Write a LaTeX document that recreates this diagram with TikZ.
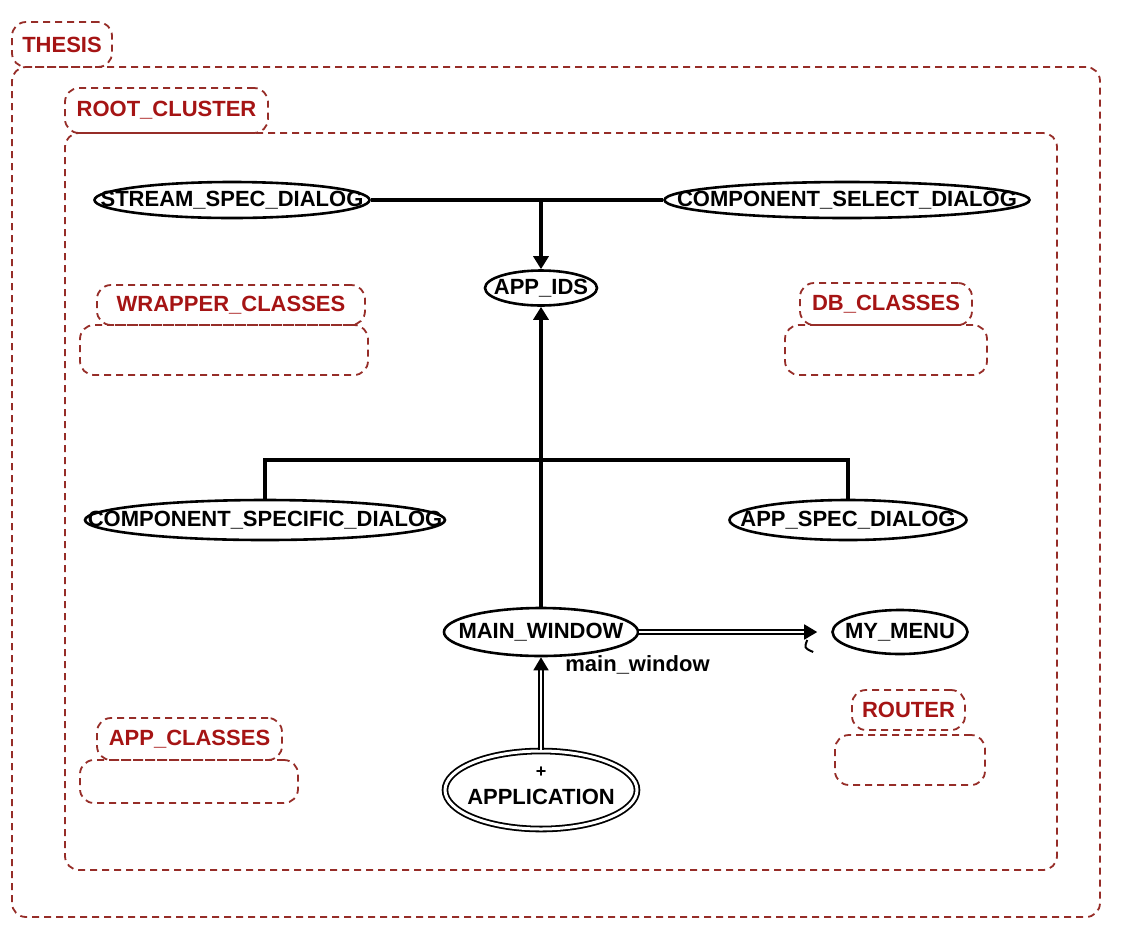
\documentclass[tikz,border=0pt]{standalone}
\usepackage{fontspec}
\setmainfont{Liberation Sans}
\usetikzlibrary{arrows.meta,shapes.geometric,calc}
\definecolor{clred}{RGB}{150,45,40}
\definecolor{lblred}{RGB}{165,20,20}
\begin{document}
\begin{tikzpicture}[x=0.5pt,y=-0.5pt,
  cluster/.style={draw=clred, dash pattern=on 3.5pt off 2.5pt, line width=0.9pt, rounded corners=7pt, inner sep=0pt},
  clabel/.style={cluster, text=lblred, font=\bfseries\fontsize{11}{11}\selectfont},
  ell/.style={draw, ellipse, line width=1.3pt, inner sep=0pt, fill=white},
  txt/.style={font=\bfseries\fontsize{11}{11}\selectfont, inner sep=0pt},
  edge/.style={line width=1.6pt},
  dbl/.style={double, double distance=1.4pt, line width=0.9pt},
  tip/.style={-{Triangle[length=6.5pt,width=7.5pt]}}
]
\useasboundingbox (0,0) rectangle (1129,943);

% clusters
\node[cluster, minimum width=544pt, minimum height=425pt] (thesis) at (556,492) {};
\node[clabel, minimum width=50pt, minimum height=22.5pt] (thesisL) at (62,44.5) {THESIS};
\node[cluster, minimum width=496pt, minimum height=368.5pt] (root) at (561,501.5) {};
\node[clabel, minimum width=101.5pt, minimum height=22.5pt] (rootL) at (166.5,110.5) {ROOT\_CLUSTER};
\node[cluster, minimum width=144pt, minimum height=25pt] (wrap) at (224,350) {};
\node[clabel, minimum width=134pt, minimum height=20pt] (wrapL) at (231,305) {WRAPPER\_CLASSES};
\node[cluster, minimum width=101pt, minimum height=25pt] (db) at (886,350) {};
\node[clabel, minimum width=86pt, minimum height=21pt] (dbL) at (886,304) {DB\_CLASSES};
\node[cluster, minimum width=109pt, minimum height=21.5pt] (appc) at (189,781.5) {};
\node[clabel, minimum width=92.5pt, minimum height=21pt] (appcL) at (189.5,739) {APP\_CLASSES};
\node[cluster, minimum width=75pt, minimum height=25pt] (router) at (910,760) {};
\node[clabel, minimum width=56.5pt, minimum height=20pt] (routerL) at (908.5,710) {ROUTER};

% class nodes
\node[ell, minimum width=137.5pt, minimum height=18pt] (stream) at (232,200) {};
\node[txt] (streamT) at (stream) {STREAM\_SPEC\_DIALOG};
\node[ell, minimum width=182.5pt, minimum height=18pt] (compsel) at (847,200) {};
\node[txt] (compselT) at (compsel) {COMPONENT\_SELECT\_DIALOG};
\node[ell, minimum width=56pt, minimum height=17.5pt] (appids) at (541,288) {};
\node[txt] (appidsT) at (appids) {APP\_IDS};
\node[ell, minimum width=180pt, minimum height=20pt] (compspec) at (265,520) {};
\node[txt] (compspecT) at (compspec) {COMPONENT\_SPECIFIC\_DIALOG};
\node[ell, minimum width=118.5pt, minimum height=20pt] (appspec) at (848,520) {};
\node[txt] (appspecT) at (appspec) {APP\_SPEC\_DIALOG};
\node[ell, minimum width=97pt, minimum height=24pt] (mainwin) at (541,632) {};
\node[txt] (mainwinT) at (mainwin) {MAIN\_WINDOW};
\node[ell, minimum width=67.5pt, minimum height=22pt] (mymenu) at (900,632) {};
\node[txt] (mymenuT) at (mymenu) {MY\_MENU};
\node[ell, double, double distance=1.5pt, line width=0.9pt, minimum width=96pt, minimum height=39pt] (app) at (541,790) {};
\node[txt] (appT) at (541,797) {APPLICATION};
\node[txt, font=\bfseries\fontsize{9}{9}\selectfont] (plus) at (541,772) {+};

% connectors
\coordinate (j1) at (appids.north |- stream.east);
\draw[edge] (stream.east) -- (compsel.west);
\draw[edge, tip] (j1) -- (appids.north);

\coordinate (hb) at (0,460);
\draw[edge, tip] (mainwin.north) -- (appids.south);
\draw[edge] (compspec.north) -- (compspec.north |- hb) -- (appspec.north |- hb) -- (appspec.north);

\coordinate (menuend) at ($(mymenu.west)+(-14,0)$);
\draw[dbl, tip] (mainwin.east) -- (menuend);
\coordinate (tk1) at ($(menuend)+(-10,8)$);
\coordinate (tk2) at ($(menuend)+(-4,20)$);
\draw[line width=1pt] (tk1) .. controls ($(tk1)+(-3,8)$) .. (tk2);

\draw[dbl, tip] (app.north) -- (mainwin.south);
\node[txt, anchor=west] (mwlabel) at (565,665) {main\_window};
\end{tikzpicture}
\end{document}
